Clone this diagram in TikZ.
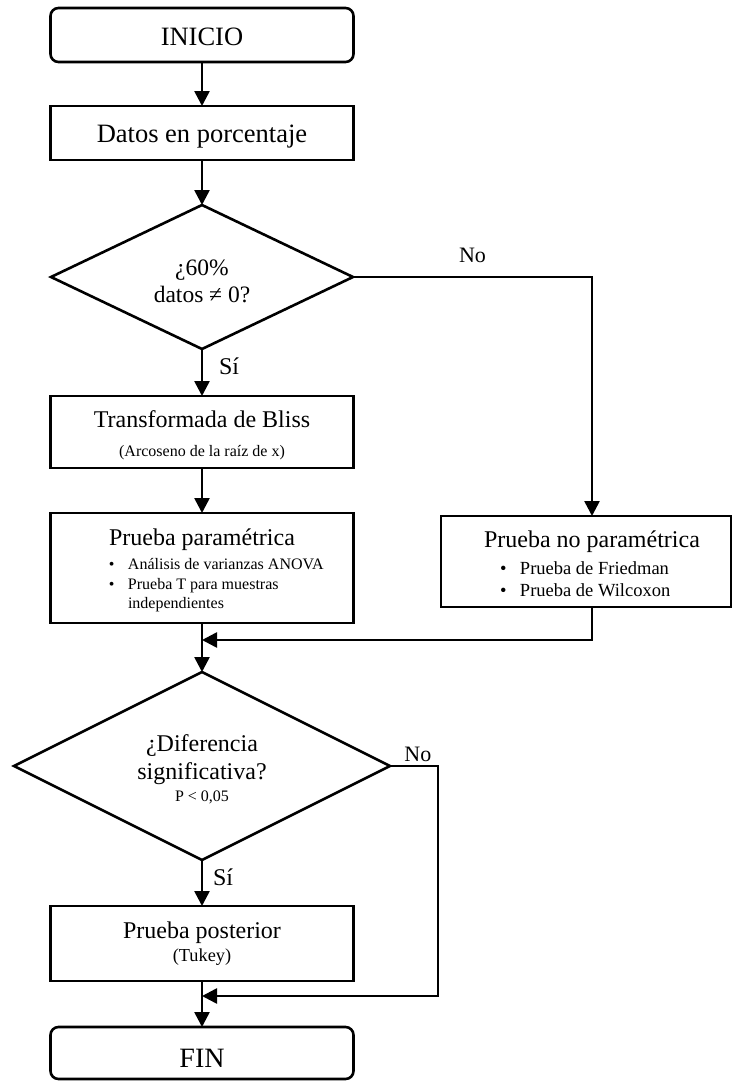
\documentclass[tikz,border=0pt]{standalone}
\usepackage{fontspec}
\setmainfont{Liberation Serif}
\usetikzlibrary{shapes.geometric,arrows.meta}
\begin{document}
\begin{tikzpicture}[x=1pt,y=-1pt,
  every node/.style={inner sep=0pt, outer sep=0pt},
  base/.style={draw=black, line width=2.6pt},
  proc/.style={base, rectangle, minimum width=303pt},
  term/.style={base, rectangle, rounded corners=8pt, minimum width=303pt},
  decis/.style={base, diamond, aspect=2},
  arr/.style={line width=2.6pt, -{Triangle[length=15pt,width=15pt]}},
  lbl/.style={font=\fontsize{24}{28}\selectfont},
  lblno/.style={font=\fontsize{22}{26}\selectfont},
]
\useasboundingbox (0,0) rectangle (733,1081);

\node[term, minimum height=54pt, font=\fontsize{26.5}{30}\selectfont, text height=22pt, text depth=0pt] (ini) at (202,35) {INICIO};

\node[proc, minimum height=54pt, font=\fontsize{26.5}{30}\selectfont, text height=19.4pt, text depth=0pt] (dat) at (202,133) {Datos en porcentaje};

\node[decis, minimum width=302pt, minimum height=144pt, text height=8pt, text depth=12pt] (d1) at (202,277)
  {\parbox[t]{150pt}{\centering\fontsize{23.5}{27.7}\selectfont ¿60\%\par datos ≠ 0?\par}};

\node[proc, minimum height=72pt, text height=10pt, text depth=20pt] (tb) at (202,432)
  {\parbox[t]{300pt}{\centering\fontsize{24}{28}\selectfont Transformada de Bliss\par
   \fontsize{16}{29.7}\selectfont (Arcoseno de la raíz de x)\par}};

\node[proc, minimum height=110pt, text height=5pt, text depth=51pt] (pp) at (202,568)
  {\parbox[t]{300pt}{\centering\fontsize{24}{28}\selectfont Prueba paramétrica\par
   \raggedright\leftskip=76pt
   \fontsize{16}{24.3}\selectfont\leavevmode\llap{\textbullet\hspace{13.5pt}}Análisis de varianzas ANOVA\par
   \fontsize{16}{20}\selectfont\leavevmode\llap{\textbullet\hspace{13.5pt}}Prueba T para muestras\par
   \fontsize{16}{19}\selectfont independientes\par}};

\node[proc, minimum width=290pt, minimum height=91pt, text height=5pt, text depth=33.4pt] (np) at (586,561.5)
  {\parbox[t]{280pt}{\centering\fontsize{24}{28}\selectfont\hspace*{12pt}Prueba no paramétrica\par
   \raggedright\leftskip=74pt
   \fontsize{18.5}{26.7}\selectfont\leavevmode\llap{\textbullet\hspace{13.5pt}}Prueba de Friedman\par
   \fontsize{18.5}{22}\selectfont\leavevmode\llap{\textbullet\hspace{13.5pt}}Prueba de Wilcoxon\par}};

\node[decis, minimum width=376pt, minimum height=188pt, text height=5pt, text depth=33.6pt] (d2) at (202,766)
  {\parbox[t]{180pt}{\centering\fontsize{24}{27.3}\selectfont ¿Diferencia\par significativa?\par
   \fontsize{16}{22.7}\selectfont P < 0,05\par}};

\node[proc, minimum height=75pt, text height=5pt, text depth=15.4pt] (pt) at (202,943.5)
  {\parbox[t]{300pt}{\centering\fontsize{24}{28}\selectfont Prueba posterior\par
   \fontsize{18.3}{23.4}\selectfont (Tukey)\par}};

\node[term, minimum height=52pt, font=\fontsize{28}{32}\selectfont, text height=29pt, text depth=0pt] (fin) at (202,1053) {FIN};

\coordinate (c1) at (592,277);
\coordinate (c2) at (592,640);
\coordinate (c3) at (438,766);
\coordinate (c4) at (438,996);

\draw[arr] (ini.south) -- (dat.north);
\draw[arr] (dat.south) -- (d1.north);
\draw[arr] (d1.south) -- node[lbl, pos=0.36, right=17pt] (si1) {Sí} (tb.north);
\draw[arr] (tb.south) -- (pp.north);
\draw[arr] (d1.east) -- node[lblno, midway, above=14pt] (no1) {No} (c1) -- (c1 |- np.north);
\draw[arr] (c1 |- np.south) -- (c2) -- (pp.south |- c2);
\draw[arr] (pp.south) -- (d2.north);
\draw[arr] (d2.south) -- node[lbl, pos=0.37, right=11pt] (si2) {Sí} (pt.north);
\draw[arr] (d2.east) -- node[lblno, pos=0.58, above=4.3pt] (no2) {No} (c3) -- (c4) -- (pt.south |- c4);
\draw[arr] (pt.south) -- (fin.north);
\end{tikzpicture}
\end{document}
